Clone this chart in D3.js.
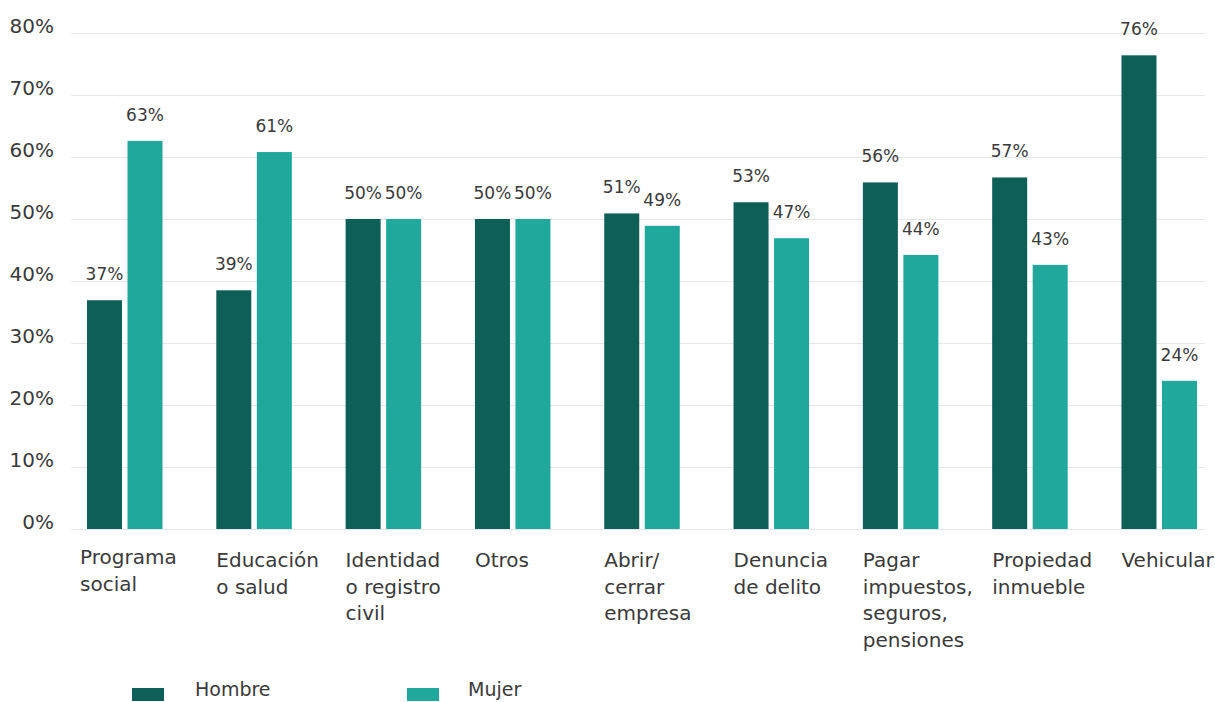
<!DOCTYPE html>
<html lang="es">
<head>
<meta charset="utf-8">
<script src="https://cdn.jsdelivr.net/npm/d3@7"></script>
<style>
  html, body { margin: 0; padding: 0; background: #ffffff; }
  svg { display: block; font-family: "DejaVu Sans", sans-serif; }
</style>
</head>
<body>
<svg id="chart" width="1215" height="702"></svg>
<script>
// Trámites por sexo de quien los realiza (% por tipo de trámite)
const categories = [
  "Programa social", "Educación o salud", "Identidad o registro civil", "Otros",
  "Abrir/cerrar empresa", "Denuncia de delito", "Pagar impuestos, seguros, pensiones",
  "Propiedad inmueble", "Vehicular"
];
const categoryLines = [
  ["Programa", "social"],
  ["Educación", "o salud"],
  ["Identidad", "o registro", "civil"],
  ["Otros"],
  ["Abrir/", "cerrar", "empresa"],
  ["Denuncia", "de delito"],
  ["Pagar", "impuestos,", "seguros,", "pensiones"],
  ["Propiedad", "inmueble"],
  ["Vehicular"]
];
const seriesNames = ["Hombre", "Mujer"];
const hombre = [36.9, 38.5, 50, 50, 50.9, 52.7, 55.9, 56.7, 76.4];
const mujer  = [62.6, 60.8, 50, 50, 48.9, 46.9, 44.2, 42.6, 23.9];
const yTicks = [0, 10, 20, 30, 40, 50, 60, 70, 80];

const colors = { Hombre: "#0d5f58", Mujer: "#20a89c" };
const textColor = "#3a3a3a";

const svg = d3.select("#chart");

const gridLeft = 71, gridRight = 1205;

const y = d3.scaleLinear().domain([0, 80]).range([529, 33]);

const x0 = d3.scaleBand()
  .domain(categories)
  .range([87, 1197])
  .paddingInner(0.416)
  .paddingOuter(0)
  .align(0);

const x1 = d3.scaleBand()
  .domain(seriesNames)
  .range([0, x0.bandwidth()])
  .paddingInner(0.136)
  .paddingOuter(0);

// Gridlines and y-axis labels
const yAxis = d3.axisLeft(y)
  .tickValues(yTicks)
  .tickFormat(d => d + "%")
  .tickSize(-(gridRight - gridLeft))
  .tickPadding(17);

const gy = svg.append("g")
  .attr("transform", `translate(${gridLeft},0)`)
  .call(yAxis);
gy.select(".domain").remove();
gy.selectAll(".tick line").attr("stroke", "#e6e6e6").attr("stroke-width", 1);
gy.selectAll(".tick text")
  .attr("fill", textColor)
  .attr("font-size", 20)
  .attr("font-family", "DejaVu Sans, sans-serif")
  .attr("dy", "-0.05em");

// Bars
const rows = categories.map((c, i) => ({
  category: c,
  values: [
    { key: "Hombre", value: hombre[i] },
    { key: "Mujer", value: mujer[i] }
  ]
}));

const groups = svg.append("g")
  .selectAll("g")
  .data(rows)
  .join("g")
  .attr("transform", d => `translate(${x0(d.category)},0)`);

groups.selectAll("rect")
  .data(d => d.values)
  .join("rect")
  .attr("x", d => x1(d.key))
  .attr("y", d => y(d.value))
  .attr("width", x1.bandwidth())
  .attr("height", d => y(0) - y(d.value))
  .attr("fill", d => colors[d.key]);

// Value labels
groups.selectAll("text.value")
  .data(d => d.values)
  .join("text")
  .attr("class", "value")
  .attr("x", d => x1(d.key) + x1.bandwidth() / 2)
  .attr("y", d => y(d.value) - 20)
  .attr("text-anchor", "middle")
  .attr("font-size", 17)
  .attr("fill", textColor)
  .text(d => Math.round(d.value) + "%");

// Category labels (left-aligned under each group)
const labels = svg.append("g")
  .selectAll("text")
  .data(categories)
  .join("text")
  .attr("x", (d, i) => i === 0 ? x0(d) - 7 : x0(d))
  .attr("y", (d, i) => i === 0 ? 564 : 567)
  .attr("font-size", 20)
  .attr("fill", textColor);

labels.selectAll("tspan")
  .data((d, i) => categoryLines[i])
  .join("tspan")
  .attr("x", function() { return this.parentNode.getAttribute("x"); })
  .attr("dy", (d, i) => i === 0 ? 0 : 26.5)
  .text(d => d);

// Legend
const legendItems = [
  { key: "Hombre", sx: 132, tx: 195 },
  { key: "Mujer", sx: 407, tx: 468 }
];
const legend = svg.append("g");
legend.selectAll("rect")
  .data(legendItems)
  .join("rect")
  .attr("x", d => d.sx)
  .attr("y", 688)
  .attr("width", 32)
  .attr("height", 13)
  .attr("fill", d => colors[d.key]);
legend.selectAll("text")
  .data(legendItems)
  .join("text")
  .attr("x", d => d.tx)
  .attr("y", 696)
  .attr("font-size", 19)
  .attr("fill", textColor)
  .text(d => d.key);
</script>
</body>
</html>
